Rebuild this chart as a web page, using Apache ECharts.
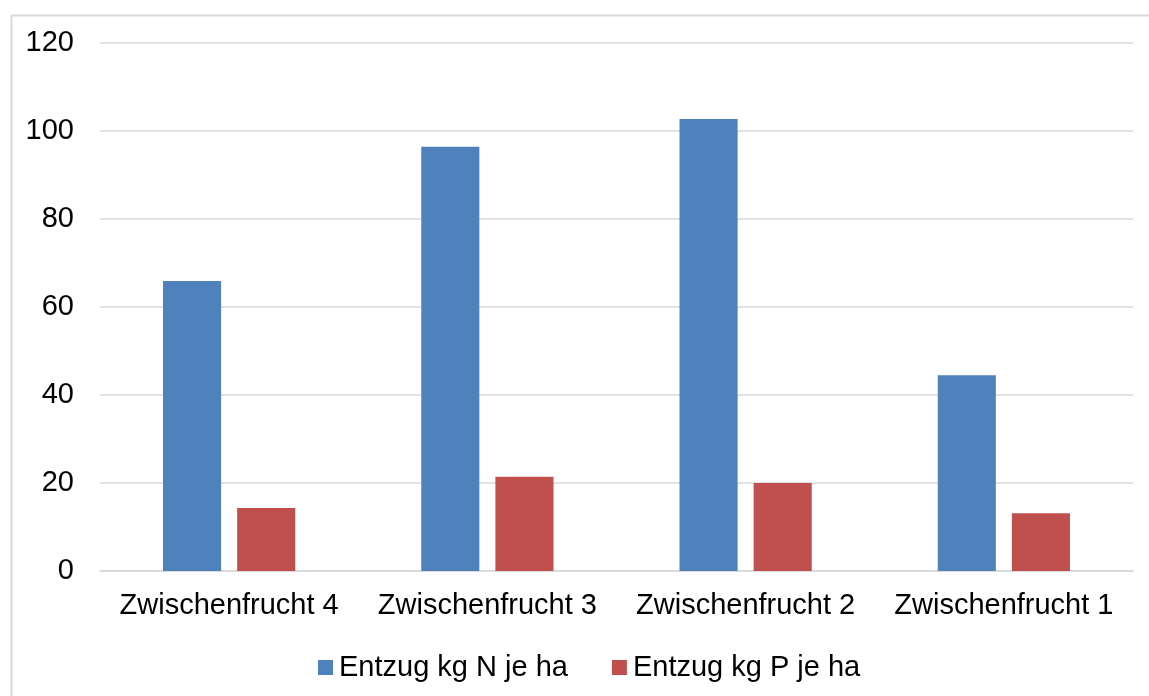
<!DOCTYPE html>
<html>
<head>
<meta charset="utf-8">
<script src="https://cdn.jsdelivr.net/npm/echarts@6/dist/echarts.min.js"></script>
<style>
html,body{margin:0;padding:0;background:#fff;}
#chart{width:1149px;height:696px;}
</style>
</head>
<body>
<div id="chart"></div>
<script>
const categories = ['Zwischenfrucht 4', 'Zwischenfrucht 3', 'Zwischenfrucht 2', 'Zwischenfrucht 1'];
const seriesNames = ['Entzug kg N je ha', 'Entzug kg P je ha'];
const valuesN = [65.9, 96.4, 102.7, 44.5];
const valuesP = [14.3, 21.4, 20.0, 13.1];
const yTicks = [0, 20, 40, 60, 80, 100, 120];

const font = '"Liberation Sans", Arial, sans-serif';
const chart = echarts.init(document.getElementById('chart'), null, {renderer: 'canvas'});
chart.setOption({
  animation: false,
  backgroundColor: '#fff',
  graphic: [{
    type: 'rect', left: 9, top: 13, z: -10,
    shape: {x: 0, y: 0, width: 1150, height: 700},
    style: {fill: 'none', stroke: '#D9D9D9', lineWidth: 2}
  }],
  grid: {left: 100, right: 16, top: 43, bottom: 125, containLabel: false},
  legend: {
    left: 313, top: 648,
    itemWidth: 15, itemHeight: 15, itemGap: 44,
    icon: 'rect',
    textStyle: {fontFamily: font, fontSize: 29, color: '#000', padding: [0, 0, 0, 1]},
    data: seriesNames
  },
  xAxis: {
    type: 'category', data: categories,
    axisLine: {show: true, lineStyle: {color: '#D9D9D9', width: 1.5}},
    axisTick: {show: false},
    axisLabel: {fontFamily: font, fontSize: 29, color: '#000', margin: 20, interval: 0}
  },
  yAxis: {
    type: 'value', min: yTicks[0], max: yTicks[yTicks.length - 1], interval: 20,
    axisLine: {show: false}, axisTick: {show: false},
    splitLine: {lineStyle: {color: '#D9D9D9', width: 1.5}},
    axisLabel: {fontFamily: font, fontSize: 29, color: '#000', margin: 26}
  },
  series: [
    {name: seriesNames[0], type: 'bar', data: valuesN, barWidth: '22.5%', barGap: '27.6%',
     itemStyle: {color: '#4F81BD'}},
    {name: seriesNames[1], type: 'bar', data: valuesP, barWidth: '22.5%', barGap: '27.6%',
     itemStyle: {color: '#C0504D'}}
  ]
});
</script>
</body>
</html>
